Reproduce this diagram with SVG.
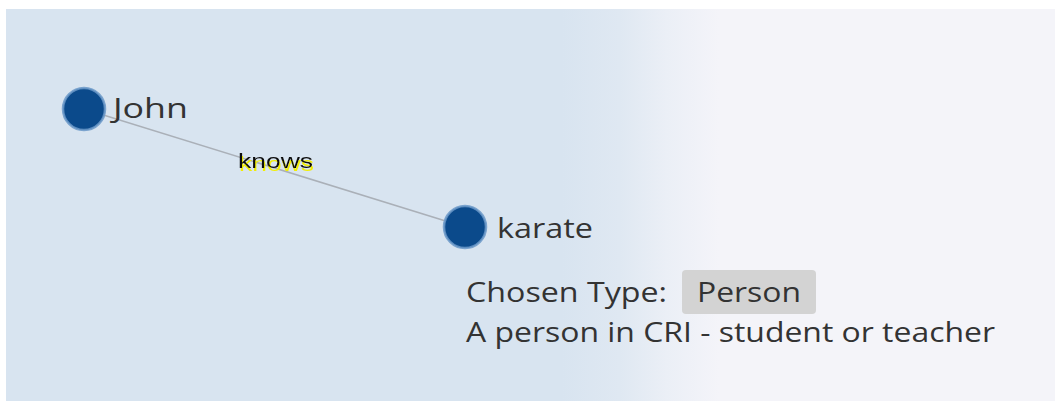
<svg xmlns="http://www.w3.org/2000/svg" width="1057" height="401" viewBox="0 0 1057 401">
<defs>
<linearGradient id="bg" x1="0" y1="0" x2="1" y2="0">
<stop offset="0" stop-color="#d8e4f0"/>
<stop offset="0.53" stop-color="#d8e4f0"/>
<stop offset="0.585" stop-color="#dfe8f2"/>
<stop offset="0.63" stop-color="#ebeff6"/>
<stop offset="0.68" stop-color="#f4f4f9"/>
<stop offset="1" stop-color="#f4f4f9"/>
</linearGradient>
<filter id="glow" x="-10%" y="-30%" width="130%" height="170%">
<feOffset in="SourceAlpha" dx="1" dy="3" result="off"/>
<feGaussianBlur in="off" stdDeviation="0.7" result="bl"/>
<feFlood flood-color="#f2ee00"/>
<feComposite in2="bl" operator="in" result="yel"/>
<feMerge><feMergeNode in="yel"/><feMergeNode in="SourceGraphic"/></feMerge>
</filter>
</defs>
<style>
.node circle{fill:#0b4a8b;stroke:#6a98c8;stroke-width:2.5;stroke-opacity:0.85}
.lbl{font-family:"Open Sans",Lato,sans-serif;font-size:28px;fill:#333}
.edge{stroke:#aab0b8;stroke-width:1.5;fill:none}
.elbl{font-family:"Liberation Sans",Arial,sans-serif;font-size:21px;fill:#111}
</style>
<rect x="0" y="0" width="1057" height="401" fill="#ffffff"/>
<rect x="6" y="9" width="1049" height="392" fill="url(#bg)"/>
<g id="connectors">
<line class="edge" x1="84" y1="109" x2="465" y2="227"/>
<text id="edge-knows" class="elbl" x="238" y="168" textLength="75" lengthAdjust="spacingAndGlyphs" filter="url(#glow)">knows</text>
</g>
<g id="node-john" class="node">
<circle cx="84" cy="109" r="21"/>
<text class="lbl" x="113" y="118" textLength="75" lengthAdjust="spacingAndGlyphs">John</text>
</g>
<g id="node-karate" class="node">
<circle cx="465" cy="227" r="21"/>
<text class="lbl" x="497" y="238" textLength="96" lengthAdjust="spacingAndGlyphs">karate</text>
</g>
<g id="type-info">
<text class="lbl" x="466" y="302" textLength="201" lengthAdjust="spacingAndGlyphs">Chosen Type:</text>
<rect x="682" y="270" width="134" height="44" rx="4" fill="#d3d3d3"/>
<text class="lbl" x="697" y="302" textLength="104" lengthAdjust="spacingAndGlyphs">Person</text>
<text class="lbl" x="466" y="342" textLength="529" lengthAdjust="spacingAndGlyphs">A person in CRI - student or teacher</text>
</g>
</svg>
